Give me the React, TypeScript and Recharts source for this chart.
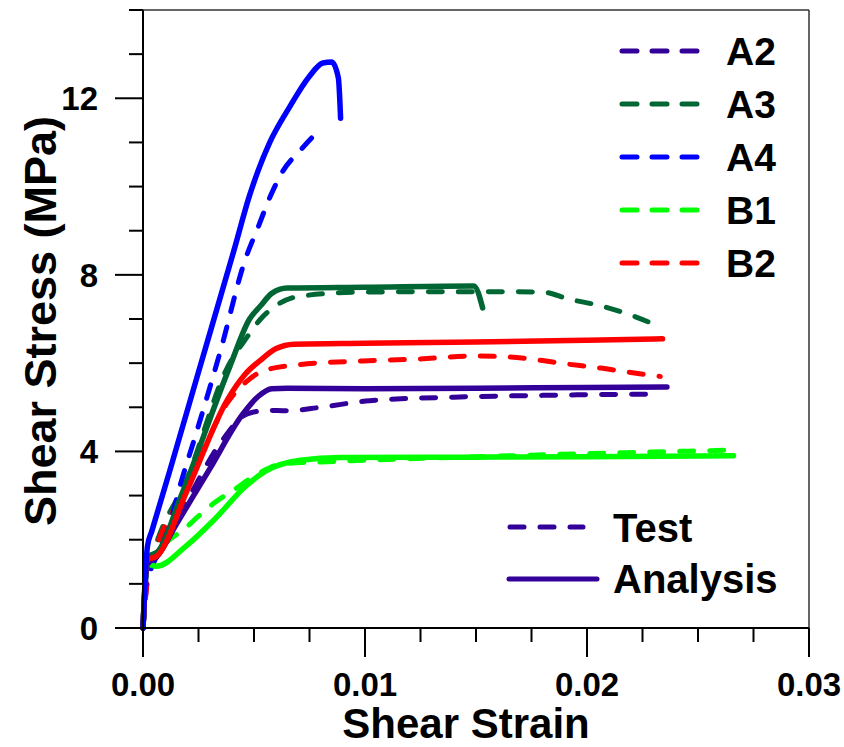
import { LineChart, Line, XAxis, YAxis, ReferenceLine, Legend } from 'recharts'

// specimens and their colours
const specimens = ['A2', 'A3', 'A4', 'B1', 'B2']
const colors = ['#330099', '#006633', '#0000ff', '#00ff00', '#ff0000']

// [shear strain, shear stress (MPa)]
const a2Test = [
  [0, 0], [0.0002, 1.1], [0.0005, 1.6], [0.002, 2.9], [0.0035, 4.2], [0.0047, 4.85],
  [0.0056, 4.93], [0.0065, 4.92], [0.008, 5.0], [0.0102, 5.15], [0.014, 5.23], [0.018, 5.27], [0.0233, 5.3],
]
const a2Analysis = [
  [0, 0], [0.0002, 1.45], [0.0006, 1.6], [0.0015, 2.35], [0.003, 3.6], [0.0045, 4.85], [0.0052, 5.25],
  [0.0058, 5.42], [0.0065, 5.43], [0.01, 5.42], [0.015, 5.43], [0.02, 5.45], [0.0236, 5.46],
]
const a3Test = [
  [0, 0], [0.0002, 1.2], [0.0005, 1.75], [0.002, 3.4], [0.0038, 5.9], [0.0047, 6.6], [0.0053, 7.0],
  [0.0059, 7.27], [0.0071, 7.52], [0.0099, 7.61], [0.0153, 7.62], [0.018, 7.61], [0.0192, 7.45],
  [0.0206, 7.3], [0.0218, 7.12], [0.0233, 6.82],
]
const a3Analysis = [
  [0, 0], [0.0002, 1.6], [0.0007, 1.75], [0.0017, 2.97], [0.0039, 5.91], [0.0048, 7.0], [0.0053, 7.3],
  [0.0058, 7.58], [0.0065, 7.7], [0.01, 7.72], [0.0149, 7.75], [0.0153, 7.25],
]
const a4Test = [
  [0, 0], [0.0001, 0.85], [0.0003, 1.25], [0.0005, 1.5], [0.001, 1.99], [0.0017, 3.28], [0.0024, 4.42],
  [0.0035, 6.3], [0.0046, 8.34], [0.0052, 9.1], [0.0057, 9.74], [0.0063, 10.35], [0.0071, 10.83], [0.0078, 11.21],
]
const a4Analysis = [
  [0, 0], [0.0002, 1.85], [0.0004, 2.2], [0.0012, 3.55], [0.0025, 5.8], [0.0041, 8.56], [0.0048, 9.8],
  [0.0057, 10.99], [0.0066, 11.8], [0.0075, 12.5], [0.0081, 12.8], [0.0085, 12.82], [0.0088, 12.46], [0.0089, 11.55],
]
const b1Test = [
  [0, 0], [0.0002, 1.2], [0.0005, 1.55], [0.002, 2.3], [0.0032, 2.83], [0.0041, 3.13], [0.0052, 3.5],
  [0.0063, 3.72], [0.008, 3.76], [0.01, 3.8], [0.015, 3.88], [0.02, 3.95], [0.0266, 4.03],
]
const b1Analysis = [
  [0, 0], [0.0002, 1.45], [0.0006, 1.4], [0.0019, 1.84], [0.0032, 2.45], [0.0046, 3.2], [0.0055, 3.55],
  [0.0071, 3.8], [0.0089, 3.86], [0.015, 3.87], [0.02, 3.88], [0.0266, 3.9],
]
const b2Test = [
  [0, 0], [0.0002, 1.1], [0.0004, 1.5], [0.002, 3.2], [0.0038, 5.1], [0.0047, 5.6], [0.0054, 5.82],
  [0.0069, 5.96], [0.0099, 6.05], [0.0123, 6.09], [0.0149, 6.16], [0.0165, 6.14], [0.0178, 6.07],
  [0.0191, 5.98], [0.0206, 5.89], [0.0218, 5.8], [0.0233, 5.7],
]
const b2Analysis = [
  [0, 0], [0.0002, 1.55], [0.0006, 1.62], [0.002, 3.13], [0.0038, 5.17], [0.0046, 5.75], [0.0053, 6.07],
  [0.006, 6.33], [0.0068, 6.43], [0.01, 6.45], [0.015, 6.48], [0.02, 6.52], [0.0234, 6.55],
]

const testCurves = [a2Test, a3Test, a4Test, b1Test, b2Test]
const analysisCurves = [a2Analysis, a3Analysis, a4Analysis, b1Analysis, b2Analysis]
const drawOrder = [3, 0, 1, 4, 2] // B1, A2, A3, B2, A4 (blue ends on top)

const xTicks = [0, 0.0025, 0.005, 0.0075, 0.01, 0.0125, 0.015, 0.0175, 0.02, 0.0225, 0.025, 0.0275, 0.03]
const xMajor = [0, 0.01, 0.02, 0.03]
const xLabels = ['0.00', '0.01', '0.02', '0.03']
const yTicks = [0, 1, 2, 3, 4, 5, 6, 7, 8, 9, 10, 11, 12, 13, 14]
const yMajor = [0, 4, 8, 12]

const FONT = '"Liberation Sans", Arial, Helvetica, sans-serif'
const DASH = '14 16'

const toPoints = (pairs: number[][]) => pairs.map(([strain, stress]) => ({ strain, stress }))

function XTick({ x, y, payload }: any) {
  const i = xMajor.findIndex((v) => Math.abs(v - payload.value) < 1e-9)
  const major = i >= 0
  return (
    <g>
      <line x1={x} x2={x} y1={y} y2={y + (major ? 29 : 14)} stroke="#000" strokeWidth={2} />
      {major && (
        <text x={x} y={y + 68} textAnchor="middle" fontFamily={FONT} fontWeight="bold" fontSize={33} fill="#000">
          {xLabels[i]}
        </text>
      )}
    </g>
  )
}

function YTick({ x, y, payload }: any) {
  const major = yMajor.includes(payload.value)
  return (
    <g>
      <line x1={x} x2={x - (major ? 28 : 14)} y1={y} y2={y} stroke="#000" strokeWidth={2} />
      {major && (
        <text x={x - 45} y={y + 12} textAnchor="end" fontFamily={FONT} fontWeight="bold" fontSize={33} fill="#000">
          {payload.value}
        </text>
      )}
    </g>
  )
}

function YTitle({ viewBox }: any) {
  const cy = viewBox.y + viewBox.height / 2 + 2
  return (
    <text
      x={56}
      y={cy}
      transform={`rotate(-90, 56, ${cy})`}
      textAnchor="middle"
      fontFamily={FONT}
      fontWeight="bold"
      fontSize={45}
      fill="#000"
    >
      Shear Stress (MPa)
    </text>
  )
}

function XTitle({ viewBox }: any) {
  return (
    <text
      x={viewBox.x + viewBox.width / 2 - 10}
      y={738}
      textAnchor="middle"
      fontFamily={FONT}
      fontWeight="bold"
      fontSize={42}
      fill="#000"
    >
      Shear Strain
    </text>
  )
}

function CurveLegend() {
  return (
    <svg width={844} height={747} style={{ display: 'block' }}>
      {specimens.map((name, i) => (
        <g key={name}>
          <line
            x1={622}
            x2={697}
            y1={51 + i * 53}
            y2={51 + i * 53}
            stroke={colors[i]}
            strokeWidth={5}
            strokeDasharray="15 15"
            strokeLinecap="round"
          />
          <text x={726} y={65 + i * 53} fontFamily={FONT} fontWeight="bold" fontSize={39} fill="#000">
            {name}
          </text>
        </g>
      ))}
      <line x1={510} x2={583} y1={527} y2={527} stroke={colors[0]} strokeWidth={5} strokeDasharray="14 16" strokeLinecap="round" />
      <text x={613} y={542} fontFamily={FONT} fontWeight="bold" fontSize={40} fill="#000">
        Test
      </text>
      <line x1={509} x2={597} y1={579} y2={579} stroke={colors[0]} strokeWidth={5} strokeLinecap="round" />
      <text x={613} y={593} fontFamily={FONT} fontWeight="bold" fontSize={40} fill="#000">
        Analysis
      </text>
    </svg>
  )
}

export default function App() {
  return (
    <div style={{ width: 844, height: 747, background: '#fff' }}>
      <style>{'body{margin:0}'}</style>
      <LineChart width={844} height={747} margin={{ top: 10, right: 35, left: 0, bottom: 0 }}>
        <XAxis
          type="number"
          dataKey="strain"
          domain={[0, 0.03]}
          ticks={xTicks}
          interval={0}
          tick={<XTick />}
          tickLine={false}
          tickSize={0}
          tickMargin={0}
          height={119}
          axisLine={{ stroke: '#000', strokeWidth: 2 }}
          label={<XTitle />}
        />
        <YAxis
          type="number"
          dataKey="stress"
          domain={[0, 14]}
          ticks={yTicks}
          interval={0}
          tick={<YTick />}
          tickLine={false}
          tickSize={0}
          tickMargin={0}
          width={143}
          axisLine={{ stroke: '#000', strokeWidth: 2 }}
          label={<YTitle />}
        />
        <ReferenceLine y={14} stroke="#333" strokeWidth={1.5} />
        <ReferenceLine x={0.03} stroke="#333" strokeWidth={1.5} />
        {drawOrder.map((i) => (
          <Line
            key={`test-${specimens[i]}`}
            data={toPoints(testCurves[i])}
            dataKey="stress"
            type="monotone"
            stroke={colors[i]}
            strokeWidth={5}
            strokeDasharray={DASH}
            strokeLinecap="round"
            dot={false}
            activeDot={false}
            isAnimationActive={false}
          />
        ))}
        {drawOrder.map((i) => (
          <Line
            key={`analysis-${specimens[i]}`}
            data={toPoints(analysisCurves[i])}
            dataKey="stress"
            type="monotone"
            stroke={colors[i]}
            strokeWidth={5.5}
            strokeLinecap="round"
            strokeLinejoin="round"
            dot={false}
            activeDot={false}
            isAnimationActive={false}
          />
        ))}
        <Legend
          layout="vertical"
          align="center"
          verticalAlign="middle"
          width={844}
          height={747}
          wrapperStyle={{ left: 0, top: 0, pointerEvents: 'none' }}
          content={<CurveLegend />}
        />
      </LineChart>
    </div>
  )
}
